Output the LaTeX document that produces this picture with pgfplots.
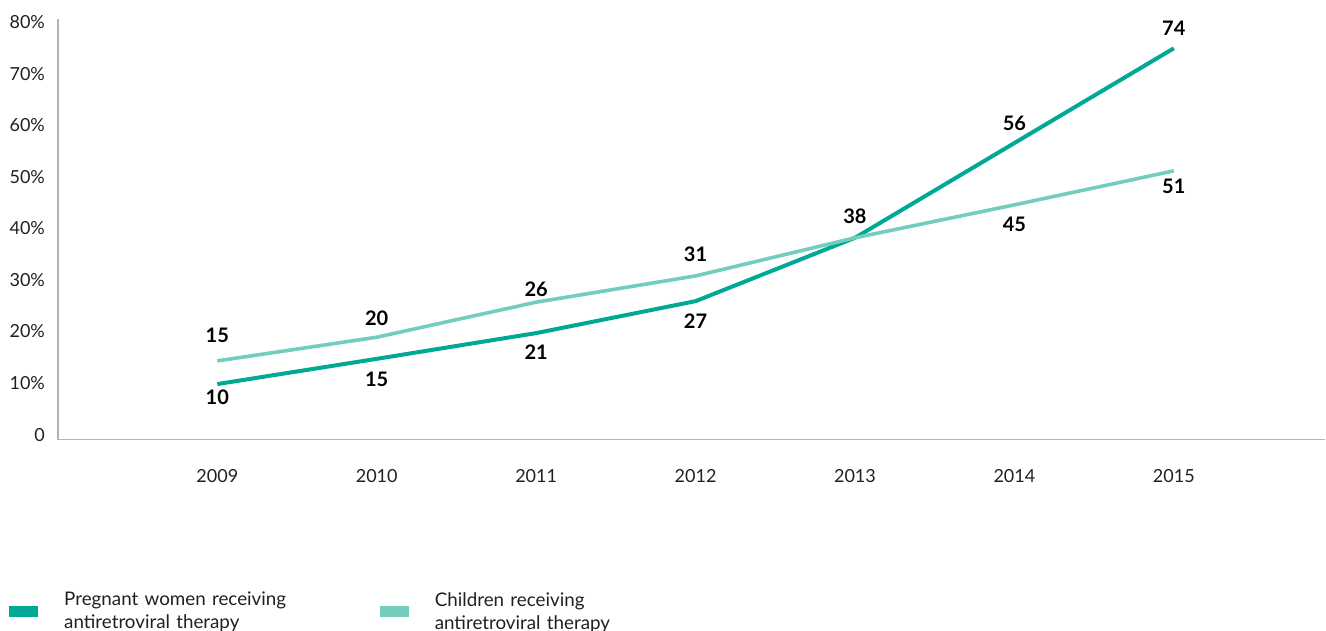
\documentclass[border=0pt]{standalone}
\usepackage{fontspec}
\setmainfont{Lato}
\usepackage{pgfplots}
\usepackage{pgfplotstable}
\pgfplotsset{compat=1.18}
\definecolor{darkteal}{HTML}{00A896}
\definecolor{lightteal}{HTML}{73CDBF}
\definecolor{axisgray}{HTML}{B3B3B3}
\definecolor{txt}{HTML}{231F20}
\pgfplotstableread{
x y lab off
0 9.8 10 -6.5
1 14.7 15 -10.5
2 19.7 21 -9.5
3 25.9 27 -10
4 38.2 38 11
5 56.6 56 10
6 75.0 74 10
}\pregnant
\pgfplotstableread{
x y lab off
0 14.3 15 13
1 18.9 20 9.5
2 25.7 26 6.5
3 30.8 31 11
5 44.6 45 -10
6 51.2 51 -7.5
}\childlab
\pgfplotstableread{
x y
0 14.3
1 18.9
2 25.7
3 30.8
4 38.2
5 44.6
6 51.2
}\children
\begin{document}
\begin{tikzpicture}
\begin{axis}[
  scale only axis,
  width=634pt, height=210.5pt,
  xmin=-1, xmax=6.95,
  ymin=-1, ymax=80.7,
  axis x line*=bottom, axis y line*=left,
  axis line style={axisgray, line width=0.75pt, -},
  major tick length=0pt,
  xtick={0,1,2,3,4,5,6},
  xticklabels={2009,2010,2011,2012,2013,2014,2015},
  ytick={0,10,20,30,40,50,60,70,80},
  yticklabels={0,10\%,20\%,30\%,40\%,50\%,60\%,70\%,80\%},
  tick label style={font=\fontsize{9}{11}\selectfont, text=txt},
  xticklabel style={yshift=-11.5pt},
  yticklabel style={xshift=-3pt},
  clip=false,
  point meta=explicit symbolic,
  legend style={at={(rel axis cs:-0.0433,-0.352)}, anchor=north west, draw=none, fill=none,
    font=\fontsize{9.4}{11.5}\selectfont, text=txt,
    legend columns=2,
    /tikz/every odd column/.append style={column sep=13pt},
    /tikz/every even column/.append style={column sep=0pt},
    nodes={text width=158pt, align=left, inner sep=0pt}},
  legend cell align=left,
  labelstyle/.style={draw=none, forget plot, nodes near coords,
    visualization depends on={\thisrow{off}\as\off},
    nodes near coords style={anchor=center, yshift=\off pt, font=\fontsize{10}{12}\selectfont\bfseries, text=black}},
]
\addplot[darkteal, line width=2pt, forget plot] table[x=x,y=y]{\pregnant};
\addplot[lightteal, line width=1.8pt, forget plot] table[x=x,y=y]{\children};
% labels
\addplot[labelstyle] table[x=x,y=y,meta=lab]{\pregnant};
\addplot[labelstyle] table[x=x,y=y,meta=lab]{\childlab};
% legend entries
\addlegendimage{legend image code/.code={\fill[darkteal] (0pt,-8pt) rectangle (14pt,-3pt);}}
\addlegendentry{Pregnant women receiving\\antiretroviral therapy}
\addlegendimage{legend image code/.code={\fill[lightteal] (0pt,-8pt) rectangle (14pt,-3pt);}}
\addlegendentry{Children receiving\\antiretroviral therapy}
\path (rel axis cs:-0.0457,-0.4537) rectangle (rel axis cs:1,1.045);
\end{axis}
\end{tikzpicture}
\end{document}
